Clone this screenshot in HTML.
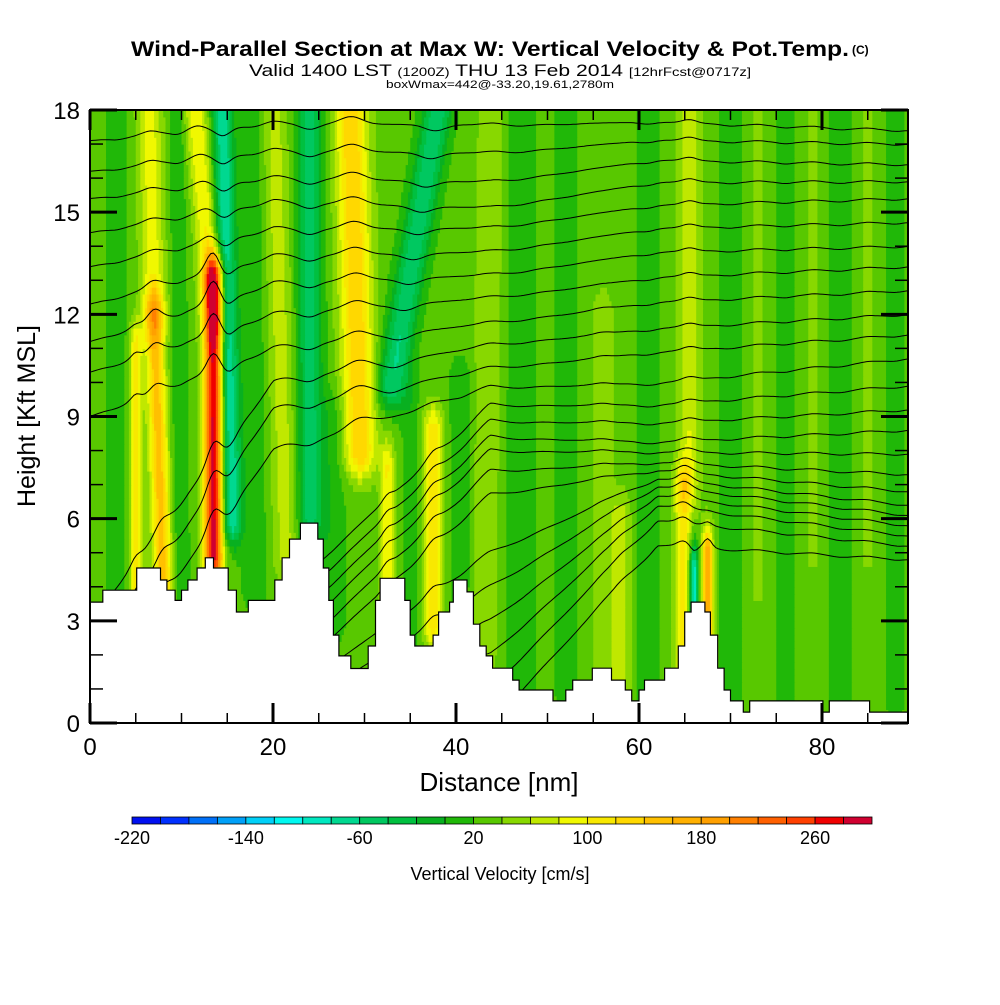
<!DOCTYPE html>
<html><head><meta charset="utf-8"><style>
body{margin:0;background:#fff;width:1000px;height:1000px;overflow:hidden;font-family:"Liberation Sans",sans-serif}
svg text{font-family:"Liberation Sans",sans-serif}
</style></head><body>
<svg id="chartSvg" width="1000" height="1000" viewBox="0 0 1000 1000" xmlns="http://www.w3.org/2000/svg">
<text x="490" y="56" text-anchor="middle" font-size="21" font-weight="bold" textLength="718" lengthAdjust="spacingAndGlyphs">Wind-Parallel Section at Max W: Vertical Velocity &amp; Pot.Temp.</text>
<text x="852" y="54" font-size="12" font-weight="bold">(C)</text>
<text x="500" y="76" text-anchor="middle" font-size="17" textLength="502" lengthAdjust="spacingAndGlyphs">Valid 1400 LST <tspan font-size="12">(1200Z)</tspan> THU 13 Feb 2014 <tspan font-size="12">[12hrFcst@0717z]</tspan></text>
<text x="500" y="88" text-anchor="middle" font-size="11" textLength="228" lengthAdjust="spacingAndGlyphs">boxWmax=442@-33.20,19.61,2780m</text>
<g id="gField"></g>
<g id="gContours" fill="none" stroke="#000" stroke-width="1"></g>
<g id="gTerrain"></g>
<g id="gAxes"></g>
<g id="gCbar"></g>
<text x="499" y="791" text-anchor="middle" font-size="26">Distance [nm]</text>
<text transform="translate(35,416) rotate(-90)" text-anchor="middle" font-size="25">Height [Kft MSL]</text>
<text x="500" y="880" text-anchor="middle" font-size="18">Vertical Velocity [cm/s]</text>
</svg>
<script>
var xTicks=[0,20,40,60,80];
var yTicks=[0,3,6,9,12,15,18];
var cbarLabels=[-220,-140,-60,20,100,180,260];
var cbarColors=["#0010f0","#0030ff","#0070f8","#00a0f8","#00d0f8","#00f8f0","#00e8c0","#00d890","#00c860","#00c040","#08b020","#20b808","#58c800","#88d800","#c0e800","#f0f800","#f8e800","#ffd800","#ffc000","#ffb000","#ffa000","#ff8000","#ff6000","#ff4000","#f00000","#d00030"];
var streakX0=[5,8,13.5,13.5,15.5,7,3,10,18,21.5,24,29.5,26.5,33,32.5,37.5,35,40.5,43,47,52,56,58,61,64.8,66,67.5,65.5,70,73,76,79,82,85,88];
var streakX1=[5,7,13.5,11.5,14.5,6.5,3,9.5,18,20,24,28.5,26.5,38,32.5,37.5,35,40.5,44,47,52,56,58,61,64.8,66,67.5,65.5,70,73,76,79,82,85,88];
var streakBot=[4,4,5,12,6,12,4,4,4,5,6,8,3,10,3,3,2,3,2,1,1,1,1,1,1,3,2.5,7,0.5,4,0.5,5,0.5,5,0.5];
var streakTop=[11,12,13,18,18,18,18,18,18,18,18,18,9,18,7.5,8.5,10,10,18,18,18,12,6,18,7,4.5,5,18,18,18,18,18,18,18,18];
var streakVal=[110,150,290,100,-80,90,5,0,5,70,-50,140,5,-60,100,120,10,0,60,5,15,55,70,0,110,-100,170,80,5,45,5,45,5,45,10];
var streakWidth=[0.7,1.0,1.0,1.2,1.1,1.3,1.2,0.9,1.5,1.5,1.4,1.7,1.5,1.6,0.7,1.0,1.0,1.2,1.5,1.8,2,1.2,1.1,1.3,0.9,0.5,0.6,1.1,1.3,1.0,1.1,1.0,1.3,1.0,1.1];
var terrX=[0,1.4,5.1,7.7,8.4,9.3,10,10.7,11.7,12.6,13.5,15.1,16,17.3,20.2,21,21.8,22.8,23,24.9,25.5,26.1,26.6,27.2,27.7,28.5,30.4,31.2,31.7,34.4,35,35.5,36,37.5,38.1,38.5,39.3,39.7,41.2,41.9,42.6,43.3,44,46.2,46.9,50.6,52,52.75,54.9,57,58.5,59.2,60,60.6,62.8,64.3,65,65.7,67.2,67.8,68.6,69.3,70,71.4,72.1,80.1,80.8,85.2];
var terrH=[3.55,3.9,4.55,4.2,3.9,3.6,3.9,4.2,4.55,4.85,4.55,3.9,3.26,3.6,4.2,4.85,5.4,5.4,5.87,5.4,4.55,3.6,2.58,1.97,1.97,1.6,2.26,3.6,4.25,3.6,2.58,2.26,2.26,2.58,3.26,3.26,3.55,4.2,3.85,2.9,2.26,1.97,1.61,1.26,0.97,0.65,0.97,1.26,1.61,1.26,0.97,0.65,0.97,1.26,1.61,2.26,3.26,3.55,3.26,2.58,1.61,0.97,0.65,0.32,0.65,0.32,0.65,0.32];
var thetaAnchorX=[0,20,43.7,62,89.4];
var thetaAt0=[17.1,16.2,15.4,14.4,13.4,12.3,11.2,10.3,9.0,3,2,1,0,0,0,0,0,0,0,0,0,0,0,0];
var thetaAt20=[17.6,16.8,16.0,15.3,14.5,13.7,12.9,12.0,11.0,10.0,9.2,8.0,3.5,3,2.5,2,1.5,1,0.5,0,0,0,0,0];
var thetaAt44=[17.56,16.73,15.88,15.12,14.53,13.83,13.15,12.48,11.74,11.1,10.42,9.86,9.34,8.87,8.4,8.0,7.4,6.7,5.0,4.0,3,2,1,0];
var thetaAt62=[17.65,17.12,16.53,15.88,15.21,14.53,13.83,13.09,12.36,11.59,10.89,9.98,9.34,8.81,8.25,7.96,7.66,7.43,7.19,6.96,6.69,6.4,5.96,5.23];
var thetaAt89=[17.4,17.0,16.4,15.9,15.4,14.7,14.0,13.4,12.7,12.0,11.4,10.7,9.9,9.2,8.6,7.9,7.3,6.8,6.4,6.1,5.8,5.5,5.2,4.8];
var cbarMin=-220, cbarStep=20;

var XMAX=89.4, HMAX=18, BASEW=30;
function sx(v){return 90+v*(818/XMAX);}
function sy(h){return 723-h*(613/HMAX);}
var SVGNS="http://www.w3.org/2000/svg";
function mk(tag,attrs,parent){var e=document.createElementNS(SVGNS,tag);for(var k in attrs){e.setAttribute(k,String(attrs[k]));}parent.appendChild(e);return e;}
function wAt(x,h){
  var w=BASEW;
  for(var i=0;i<streakX0.length;i++){
    var b=streakBot[i],t=streakTop[i];
    var f=t>b?(h-b)/(t-b):0; f=Math.max(0,Math.min(1,f));
    var xc=streakX0[i]+(streakX1[i]-streakX0[i])*f;
    var dx=(x-xc)/streakWidth[i];
    var vt=1; if(h<b) vt=Math.exp(-Math.pow((b-h)/0.8,2)); else if(h>t) vt=Math.exp(-Math.pow((h-t)/0.8,2));
    w+=(streakVal[i]-BASEW)*Math.exp(-dx*dx)*vt;
  }
  return w;
}
function colorOf(w){var k=Math.floor((w-cbarMin)/cbarStep);k=Math.max(0,Math.min(cbarColors.length-1,k));return cbarColors[k];}

try{
var gF=document.getElementById('gField');
var DX=0.25,DH=0.2,NR=Math.round(HMAX/DH),NC=Math.ceil(XMAX/DX);
for(var ri=0;ri<NR;ri++){
  var h=ri*DH;
  var runStart=0,runCol=null;
  for(var i=0;i<=NC;i++){
    var x=Math.min(i*DX,XMAX);
    var c=i<NC?colorOf(wAt(x+DX/2,h+DH/2)):null;
    if(c!==runCol){
      if(runCol!==null){
        var r=mk('rect',{x:sx(runStart).toFixed(2),y:sy(h+DH).toFixed(2),width:(sx(x)-sx(runStart)+0.6).toFixed(2),height:(sy(h)-sy(h+DH)+0.6).toFixed(2),fill:runCol},gF);
        
        
      }
      runStart=x;runCol=c;
    }
  }
}
}catch(e){console.log(e);}

try{
var gC=document.getElementById('gContours');
var thetaCols=[thetaAt0,thetaAt20,thetaAt44,thetaAt62,thetaAt89];
function interpAnchor(li,x){
  for(var k=0;k<thetaAnchorX.length-1;k++){
    if(x<=thetaAnchorX[k+1]){var t=(x-thetaAnchorX[k])/(thetaAnchorX[k+1]-thetaAnchorX[k]);return thetaCols[k][li]+(thetaCols[k+1][li]-thetaCols[k][li])*t;}
  }
  return thetaCols[thetaCols.length-1][li];
}
for(var li=0;li<thetaAt0.length;li++){
  var d='';
  for(var s=0;s*0.3<=XMAX;s++){
    var xx=s*0.3;
    var h0=interpAnchor(li,xx);
    var hh=h0+(wAt(xx,h0)-BASEW)*0.002;
    hh=Math.max(0,Math.min(HMAX,hh));
    d+=(d?'L':'M')+sx(xx).toFixed(1)+','+sy(hh).toFixed(1);
  }
  var p=mk('path',{d:d},gC);
  
  
}
}catch(e){console.log(e);}

try{
var gT=document.getElementById('gTerrain');
var td='M'+sx(0)+','+sy(0);
for(var i=0;i<terrX.length;i++){
  var xe=i+1<terrX.length?terrX[i+1]:XMAX;
  td+='L'+sx(terrX[i]).toFixed(1)+','+sy(terrH[i]).toFixed(1)+'L'+sx(xe).toFixed(1)+','+sy(terrH[i]).toFixed(1);
}
td+='L'+sx(XMAX)+','+sy(0)+'Z';
var tp=mk('path',{d:td,fill:'#fff',stroke:'#000','stroke-width':1.2},gT);


}catch(e){console.log(e);}

try{
var gA=document.getElementById('gAxes');
var fr=mk('rect',{x:90,y:110,width:818,height:613,fill:'none',stroke:'#000','stroke-width':2},gA);


for(var v=0;v<=XMAX;v+=5){
  var L=v%20===0?20:10, sw=v%20===0?3:1.5;
  mk('line',{x1:sx(v),x2:sx(v),y1:723,y2:723-L,stroke:'#000','stroke-width':sw},gA);
  mk('line',{x1:sx(v),x2:sx(v),y1:110,y2:110+L,stroke:'#000','stroke-width':sw},gA);
}
for(var hv=0;hv<=HMAX;hv+=1){
  var L2=hv%3===0?27:13, sw2=hv%3===0?3:1.5;
  mk('line',{x1:90,x2:90+L2,y1:sy(hv),y2:sy(hv),stroke:'#000','stroke-width':sw2},gA);
  mk('line',{x1:908,x2:908-L2,y1:sy(hv),y2:sy(hv),stroke:'#000','stroke-width':sw2},gA);
}
xTicks.forEach(function(v){
  var t=mk('text',{x:sx(v),y:755,'text-anchor':'middle','font-size':24},gA);t.textContent=String(v);
  
  
});
yTicks.forEach(function(v){
  var t=mk('text',{x:80,y:sy(v)+9,'text-anchor':'end','font-size':24},gA);t.textContent=String(v);
  
  
});
}catch(e){console.log(e);}

try{
var gB=document.getElementById('gCbar');
var cbX0=132,cbX1=872,bw=(cbX1-cbX0)/cbarColors.length;
cbarColors.forEach(function(c,i){
  var r=mk('rect',{x:cbX0+i*bw,y:817,width:bw,height:7,fill:c,stroke:'#000','stroke-width':0.8},gB);
  
  
});
cbarLabels.forEach(function(v){
  var i=(v-cbarMin)/cbarStep;
  var t=mk('text',{x:cbX0+i*bw,y:844,'text-anchor':'middle','font-size':18},gB);t.textContent=String(v);
  
  
});
}catch(e){console.log(e);}
</script>
</body></html>
